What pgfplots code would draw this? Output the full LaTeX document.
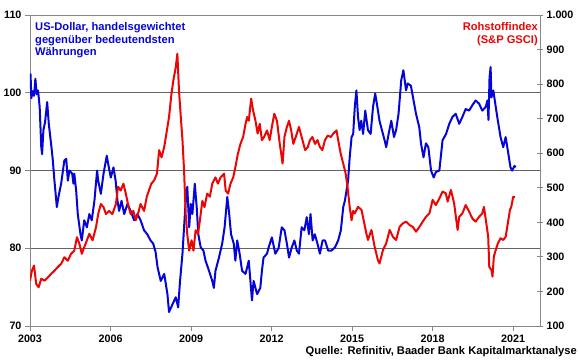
\documentclass[border=0pt]{standalone}
\usepackage{pgfplots}
\pgfplotsset{compat=1.18}
\usepackage{fontspec}
\setmainfont{Liberation Sans}
\definecolor{cblue}{RGB}{5,5,215}
\definecolor{cred}{RGB}{235,5,5}
\definecolor{axgray}{RGB}{135,135,135}
\definecolor{gridgray}{RGB}{100,100,100}
\begin{document}
\begin{tikzpicture}[x=1bp,y=1bp]
\pgfplotsset{
  every axis/.append style={
    scale only axis, width=510bp, height=311bp,
    xmin=2003, xmax=2022,
    /pgf/number format/assume math mode=true,
    tick label style={font=\bfseries\fontsize{10.8}{12}\selectfont},
    major tick length=5bp,
    tick style={axgray, line width=0.8bp},
  }
}
\begin{axis}[
  at={(0,0)}, anchor=south west,
  ymin=70, ymax=110,
  ytick={70,80,90,100,110},
  xtick={2003,2006,...,2021},
  xticklabel style={/pgf/number format/1000 sep={}},
  tick pos=left, tick align=outside,
  axis line style={axgray, line width=0.8bp},
  ymajorgrids=true,
  major grid style={gridgray, line width=0.8bp},
]
\addplot[cblue, line width=2bp, line join=round] table {
2003.00 100.5
2003.02 102.4
2003.05 99.3
2003.10 100.2
2003.15 99.6
2003.20 101.8
2003.25 99.8
2003.30 100.3
2003.36 98.2
2003.42 93.0
2003.45 92.1
2003.50 95.2
2003.56 96.2
2003.64 98.8
2003.70 96.0
2003.80 93.0
2003.85 91.3
2003.91 88.7
2004.00 85.3
2004.06 86.6
2004.16 88.3
2004.28 91.3
2004.35 91.5
2004.41 88.7
2004.47 90.0
2004.57 89.6
2004.62 88.3
2004.65 89.6
2004.72 87.4
2004.78 84.4
2004.88 81.8
2004.93 81.0
2005.02 83.6
2005.12 82.7
2005.21 84.4
2005.30 83.6
2005.40 86.1
2005.50 90.0
2005.54 88.7
2005.64 87.0
2005.74 89.6
2005.86 91.9
2005.91 90.9
2006.01 89.1
2006.11 90.4
2006.19 88.7
2006.26 86.1
2006.32 84.8
2006.41 86.1
2006.51 84.4
2006.63 85.7
2006.75 84.8
2006.88 83.6
2007.00 84.4
2007.12 83.6
2007.25 82.3
2007.37 81.8
2007.49 81.0
2007.59 80.6
2007.68 79.5
2007.75 77.6
2007.87 75.8
2008.00 76.7
2008.12 74.1
2008.18 71.8
2008.31 72.8
2008.43 73.7
2008.52 72.4
2008.59 75.8
2008.68 79.3
2008.74 82.7
2008.80 86.1
2008.86 87.9
2008.93 82.7
2008.99 85.7
2009.05 84.4
2009.14 88.3
2009.21 85.3
2009.27 81.8
2009.36 80.1
2009.46 79.7
2009.54 78.4
2009.67 77.1
2009.79 75.8
2009.85 74.9
2009.91 77.1
2010.04 78.8
2010.16 80.6
2010.25 82.7
2010.35 86.6
2010.41 84.8
2010.49 81.8
2010.59 80.6
2010.65 78.4
2010.72 81.0
2010.81 79.3
2010.90 77.1
2011.03 76.7
2011.15 78.4
2011.27 73.3
2011.33 75.8
2011.46 74.1
2011.58 74.9
2011.64 77.1
2011.70 78.8
2011.83 79.3
2011.89 80.1
2012.01 81.4
2012.14 79.3
2012.26 80.0
2012.38 82.7
2012.48 82.3
2012.57 80.6
2012.65 78.8
2012.75 80.1
2012.85 81.0
2012.94 79.7
2013.02 79.3
2013.12 82.7
2013.22 82.3
2013.31 84.0
2013.39 81.8
2013.45 84.4
2013.53 81.0
2013.61 81.8
2013.71 80.6
2013.80 79.3
2013.90 81.0
2013.99 81.0
2014.11 79.7
2014.23 79.7
2014.36 80.1
2014.48 81.0
2014.58 82.3
2014.67 85.3
2014.73 86.1
2014.79 87.4
2014.85 88.7
2014.91 91.7
2014.98 94.3
2015.04 94.7
2015.10 98.2
2015.16 100.3
2015.22 96.9
2015.28 95.2
2015.34 96.4
2015.41 94.7
2015.49 97.7
2015.59 95.2
2015.69 94.7
2015.78 98.2
2015.86 99.9
2015.94 98.2
2016.02 96.4
2016.11 95.2
2016.21 93.9
2016.27 93.0
2016.36 94.7
2016.46 96.4
2016.56 94.3
2016.64 95.2
2016.73 97.3
2016.83 101.6
2016.91 102.9
2017.01 100.3
2017.07 101.2
2017.19 100.9
2017.29 99.0
2017.38 97.3
2017.50 95.6
2017.57 93.4
2017.66 91.7
2017.75 93.5
2017.84 93.0
2017.94 90.0
2018.04 89.1
2018.12 89.8
2018.25 90.0
2018.37 93.9
2018.50 94.7
2018.62 96.0
2018.74 96.9
2018.86 97.3
2018.99 96.0
2019.11 96.9
2019.23 97.9
2019.36 97.7
2019.48 98.4
2019.60 99.0
2019.73 98.6
2019.85 97.7
2019.98 98.2
2020.04 99.0
2020.08 96.5
2020.12 102.0
2020.16 103.3
2020.19 99.4
2020.26 100.3
2020.35 98.2
2020.43 96.4
2020.53 94.3
2020.63 93.0
2020.72 94.3
2020.80 92.6
2020.90 90.4
2020.96 90.0
2021.05 90.6
2021.09 90.4
};
\end{axis}
\begin{axis}[
  at={(0,0)}, anchor=south west,
  ymin=100, ymax=1000,
  ytick={100,200,...,1000},
  axis x line=none,
  axis y line*=right,
  tick align=center,
  major tick length=6bp,
  axis line style={axgray, line width=0.8bp},
  yticklabel style={/pgf/number format/1000 sep={.}},
]
\addplot[cred, line width=2bp, line join=round] table {
2003.00 231
2003.07 260
2003.15 275
2003.23 222
2003.32 212
2003.42 237
2003.54 231
2003.67 241
2003.79 251
2003.91 260
2004.04 271
2004.16 280
2004.28 299
2004.41 289
2004.53 309
2004.65 318
2004.75 357
2004.84 338
2004.93 309
2005.02 328
2005.12 348
2005.21 367
2005.33 348
2005.46 386
2005.54 424
2005.64 453
2005.74 444
2005.83 424
2005.95 433
2006.07 424
2006.20 453
2006.28 503
2006.38 492
2006.48 512
2006.57 483
2006.65 453
2006.75 424
2006.85 433
2006.94 406
2007.02 424
2007.12 453
2007.25 433
2007.35 474
2007.43 492
2007.52 512
2007.62 521
2007.73 541
2007.81 609
2007.90 588
2008.00 618
2008.10 666
2008.18 705
2008.27 772
2008.34 810
2008.43 849
2008.49 888
2008.55 782
2008.61 714
2008.68 638
2008.74 550
2008.80 424
2008.86 365
2008.93 318
2009.02 348
2009.09 318
2009.17 377
2009.26 367
2009.33 406
2009.42 462
2009.50 444
2009.60 483
2009.70 474
2009.79 512
2009.91 530
2010.00 512
2010.10 530
2010.23 541
2010.29 492
2010.38 483
2010.47 512
2010.57 530
2010.65 559
2010.74 597
2010.84 627
2010.94 647
2011.03 685
2011.09 705
2011.15 694
2011.24 758
2011.31 724
2011.40 694
2011.48 657
2011.56 685
2011.64 638
2011.72 647
2011.83 666
2011.93 638
2012.01 676
2012.10 714
2012.20 694
2012.30 630
2012.41 570
2012.48 647
2012.57 676
2012.65 694
2012.73 666
2012.81 627
2012.90 647
2013.02 676
2013.12 647
2013.25 609
2013.35 618
2013.43 638
2013.52 647
2013.62 627
2013.71 638
2013.80 618
2013.89 609
2013.99 638
2014.09 651
2014.21 647
2014.30 657
2014.42 666
2014.48 638
2014.58 597
2014.67 570
2014.76 541
2014.83 502
2014.91 444
2014.98 406
2015.04 433
2015.10 426
2015.22 445
2015.35 436
2015.53 368
2015.59 349
2015.72 378
2015.84 329
2015.96 291
2016.02 281
2016.15 320
2016.27 339
2016.40 378
2016.52 358
2016.64 349
2016.77 387
2016.89 397
2017.01 402
2017.14 392
2017.26 387
2017.38 373
2017.51 387
2017.63 402
2017.75 416
2017.88 426
2018.00 465
2018.12 450
2018.25 469
2018.37 489
2018.49 484
2018.56 460
2018.68 494
2018.80 455
2018.93 378
2018.99 416
2019.11 426
2019.23 450
2019.36 431
2019.48 411
2019.60 402
2019.73 416
2019.85 426
2019.91 445
2020.00 397
2020.07 358
2020.11 271
2020.19 262
2020.23 243
2020.28 301
2020.35 320
2020.43 339
2020.53 354
2020.63 349
2020.72 358
2020.80 397
2020.88 436
2020.93 445
2021.00 474
2021.07 474
};
\end{axis}
\node[anchor=north west, inner sep=0pt, align=left, text=cblue,
  font=\bfseries\fontsize{11.2}{12.8}\selectfont] at (5,304)
  {US-Dollar, handelsgewichtet\\gegenüber bedeutendsten\\Währungen};
\node[anchor=north east, inner sep=0pt, align=right, text=cred,
  font=\bfseries\fontsize{11.2}{12.8}\selectfont] at (508,304)
  {Rohstoffindex\\(S\&P GSCI)};
\node[anchor=base east, inner sep=0pt,
  font=\bfseries\fontsize{11.2}{12.8}\selectfont] at (547,-28)
  {Quelle: Refinitiv, Baader Bank Kapitalmarktanalyse};
\path[use as bounding box] (-30,-33) rectangle (550,326);
\end{tikzpicture}
\end{document}
